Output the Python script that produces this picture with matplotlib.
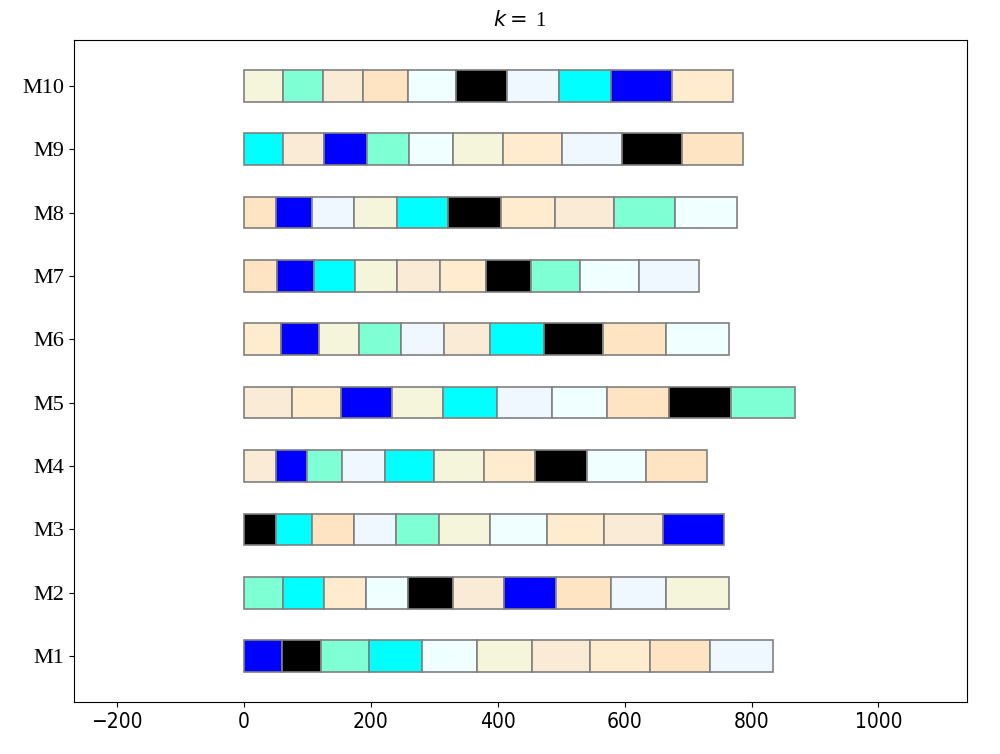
import matplotlib
matplotlib.use("Agg")
import matplotlib.pyplot as plt
import numpy as np

machines = ["M1", "M2", "M3", "M4", "M5", "M6", "M7", "M8", "M9", "M10"]
job_colors = ["aliceblue", "antiquewhite", "aqua", "aquamarine", "azure",
              "beige", "bisque", "black", "blanchedalmond", "blue"]

# job sequence (index into job_colors) per machine, in processing order
seq_M1 = [9, 7, 3, 2, 4, 5, 1, 8, 6, 0]
seq_M2 = [3, 2, 8, 4, 7, 1, 9, 6, 0, 5]
seq_M3 = [7, 2, 6, 0, 3, 5, 4, 8, 1, 9]
seq_M4 = [1, 9, 3, 0, 2, 5, 8, 7, 4, 6]
seq_M5 = [1, 8, 9, 5, 2, 0, 4, 6, 7, 3]
seq_M6 = [8, 9, 5, 3, 0, 1, 2, 7, 6, 4]
seq_M7 = [6, 9, 2, 5, 1, 8, 7, 3, 4, 0]
seq_M8 = [6, 9, 0, 5, 2, 7, 8, 1, 3, 4]
seq_M9 = [2, 1, 9, 3, 4, 5, 8, 0, 7, 6]
seq_M10 = [5, 3, 1, 6, 4, 7, 0, 2, 9, 8]

# processing times per machine, in processing order
dur_M1 = [60, 62, 76, 83, 86, 87, 92, 94, 95, 99]
dur_M2 = [61, 65, 66, 67, 70, 81, 82, 86, 87, 99]
dur_M3 = [51, 56, 66, 67, 68, 80, 89, 90, 94, 96]
dur_M4 = [50, 50, 54, 69, 76, 79, 81, 82, 93, 96]
dur_M5 = [76, 77, 80, 81, 85, 87, 87, 97, 98, 100]
dur_M6 = [59, 59, 64, 65, 69, 72, 85, 93, 99, 100]
dur_M7 = [52, 59, 64, 66, 68, 72, 72, 76, 93, 96]
dur_M8 = [50, 57, 67, 68, 79, 84, 85, 94, 95, 98]
dur_M9 = [61, 66, 67, 67, 68, 80, 93, 94, 95, 96]
dur_M10 = [62, 63, 63, 70, 77, 79, 82, 82, 96, 96]

sequences = [seq_M1, seq_M2, seq_M3, seq_M4, seq_M5,
             seq_M6, seq_M7, seq_M8, seq_M9, seq_M10]
durations = [dur_M1, dur_M2, dur_M3, dur_M4, dur_M5,
             dur_M6, dur_M7, dur_M8, dur_M9, dur_M10]

fig = plt.figure(figsize=(10, 7.54), dpi=100)
ax = fig.add_axes([0.0737, 0.069, 0.893, 0.878])

for i, (seq, dur) in enumerate(zip(sequences, durations)):
    starts = np.concatenate([[0], np.cumsum(dur)[:-1]])
    ax.barh(i + 1, dur, left=starts, height=0.5,
            color=[job_colors[j] for j in seq],
            edgecolor="gray", linewidth=1.2)

ax.set_yticks(range(1, len(machines) + 1))
ax.set_yticklabels(machines, fontfamily="Liberation Serif", fontsize=16)
ax.set_xlim(-268, 1139)
ax.set_xticks([-200, 0, 200, 400, 600, 800, 1000])
for lbl in ax.get_xticklabels():
    lbl.set_fontsize(15)
    lbl.set_fontstretch("condensed")
ax.set_title(r"$k=$ 1", fontfamily="Liberation Serif", fontsize=15, pad=10)

fig.savefig("out.png", dpi=100)
